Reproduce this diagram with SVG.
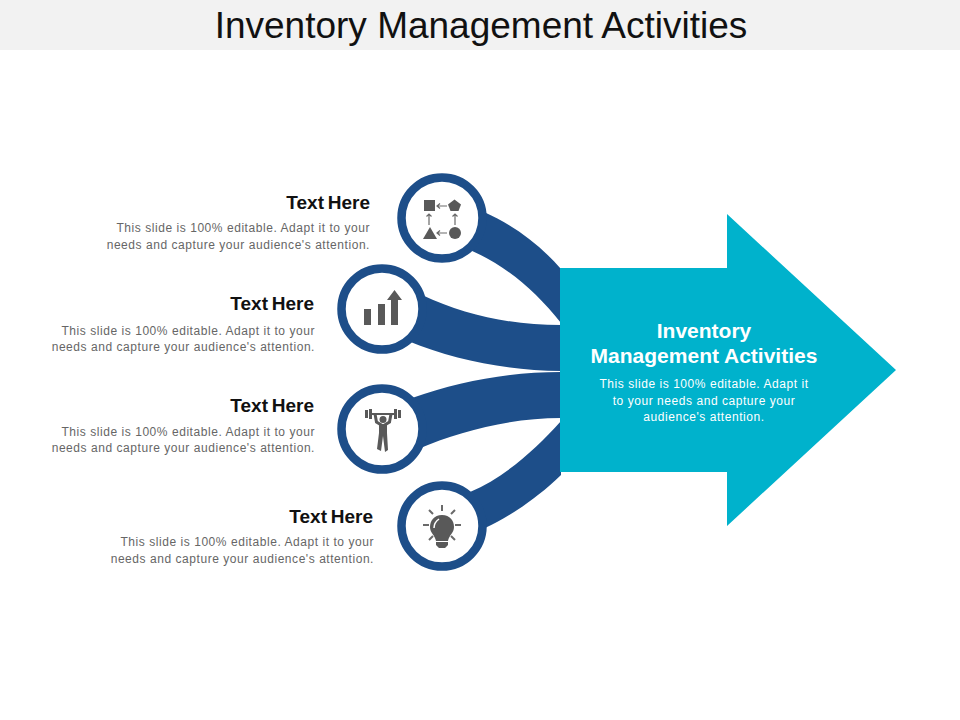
<svg xmlns="http://www.w3.org/2000/svg" width="960" height="720" viewBox="0 0 960 720">
<style>
text{font-family:"Liberation Sans",Arial,sans-serif}
.h{font-size:19px;font-weight:bold;fill:#111;text-anchor:end;word-spacing:-1.500px}
.b{font-size:12px;fill:#666;text-anchor:end;letter-spacing:.55px}
.c{fill:#fff;stroke:#1d4e89;stroke-width:8.500}
.i{fill:#595959}
.l{stroke:#6a6a6a;stroke-width:1.200;fill:none}
.band{fill:#1d4e89}
.w{fill:#fff;text-anchor:middle}
.s{font-size:12px;letter-spacing:.55px}
.t{font-size:21px;font-weight:bold}
</style>
<rect width="960" height="50" fill="#f2f2f2"/>
<text x="481" y="38" font-size="37" text-anchor="middle" fill="#111">Inventory Management Activities</text>
<g id="connectors">
<path class="band" d="M484 212C515 226 540 245 561 269V323C535 290 505 265 470 250Z"/>
<path class="band" d="M422 295C465 315 510 325 561 325V371C505 370 455 360 408 341Z"/>
<path class="band" d="M412 398C460 381 510 372 561 372V418C510 418 460 431 418 449Z"/>
<path class="band" d="M470 492C505 477 535 450 561 421V475C535 500 510 516 485 528Z"/>
</g>
<g id="main-arrow">
<path d="M560 268H727V214L896 370L727 526V472H560Z" fill="#00b2cc"/>
<text class="w t" x="704" y="338">Inventory</text>
<text class="w t" x="704" y="363">Management Activities</text>
<text class="w s" x="704" y="388">This slide is 100% editable. Adapt it</text>
<text class="w s" x="704" y="405">to your needs and capture your</text>
<text class="w s" x="704" y="421">audience's attention.</text>
</g>
<g id="node-1">
<circle class="c" cx="442" cy="218" r="40.500"/>
<rect class="i" x="424" y="200" width="11" height="11"/>
<path class="i" d="M454.500 199.500L461 204.500L458.500 211H450.500L448 204.500Z"/>
<path class="i" d="M430 227L437 239H423Z"/>
<circle class="i" cx="455" cy="233" r="6"/>
<path class="l" d="M447 206H437M440 203.500L437 206L440 208.500M447 233H437M440 230.500L437 233L440 235.500M429 225V214M426.500 216.500L429 214L431.500 216.500M455 225V214M452.500 216.500L455 214L457.500 216.500"/>
<text class="h" x="370" y="209">Text Here</text>
<text class="b" x="370" y="232">This slide is 100% editable. Adapt it to your</text>
<text class="b" x="370" y="249">needs and capture your audience's attention.</text>
</g>
<g id="node-2">
<circle class="c" cx="382" cy="309" r="40.500"/>
<path class="i" d="M364 309H371V325H364ZM378 304H385V325H378ZM391 325V300H387L394.500 290L402 300H398V325Z"/>
<text class="h" x="314" y="310">Text Here</text>
<text class="b" x="315" y="335">This slide is 100% editable. Adapt it to your</text>
<text class="b" x="315" y="351">needs and capture your audience's attention.</text>
</g>
<g id="node-3">
<circle class="c" cx="382" cy="429" r="40.500"/>
<circle class="i" cx="383" cy="419.500" r="3.500"/>
<path class="i" d="M365 410H368V418H365ZM369 409H372V419H369ZM394 409H397V419H394ZM398 410H401V418H398ZM372 413H394V415H372Z"/>
<path d="M375 414L376.500 422L383 426L389.500 422L391 414" stroke="#595959" stroke-width="3" fill="none"/>
<path class="i" d="M379 425H387V433L388 450L385 452L383 436L381 451L377 449L379 433Z"/>
<text class="h" x="314" y="412">Text Here</text>
<text class="b" x="315" y="436">This slide is 100% editable. Adapt it to your</text>
<text class="b" x="315" y="452">needs and capture your audience's attention.</text>
</g>
<g id="node-4">
<circle class="c" cx="442" cy="526" r="40.500"/>
<path class="i" d="M442 515C450 515 454 521 454 527C454 533 449 535 448 541H436C435 535 430 533 430 527C430 521 434 515 442 515ZM436 542H448V545L445 548H439L436 545Z"/>
<path d="M434 528C434 524 436 521 439 519" stroke="#fff" stroke-width="1.500" fill="none"/>
<path class="l" style="stroke-width:2" d="M442 505V511M429 510L433 514M455 510L451 514M423 525H429M455 525H461M429 540L433 536M455 540L451 536"/>
<text class="h" x="373" y="523">Text Here</text>
<text class="b" x="374" y="546">This slide is 100% editable. Adapt it to your</text>
<text class="b" x="374" y="563">needs and capture your audience's attention.</text>
</g>
</svg>
